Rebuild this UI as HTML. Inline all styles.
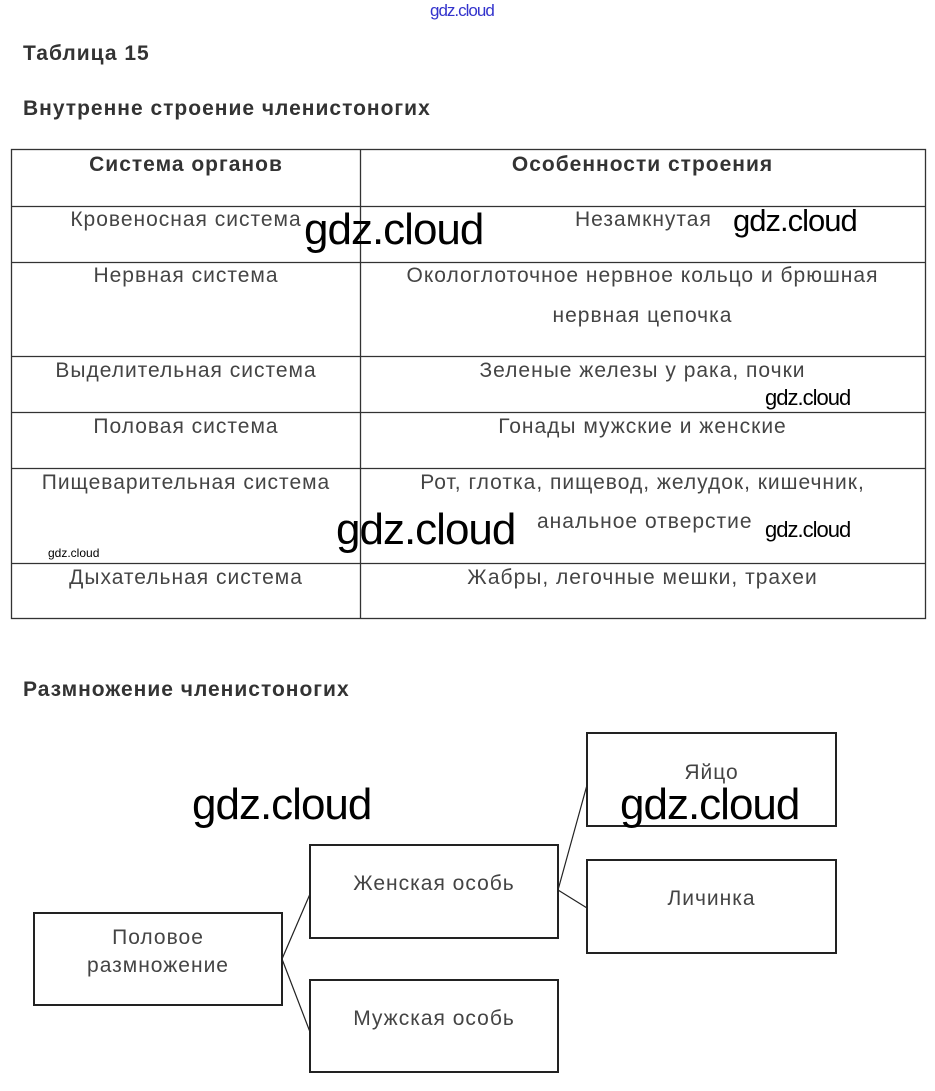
<!DOCTYPE html>
<html><head><meta charset="utf-8"><style>
body{margin:0;width:935px;height:1091px;background:#fff;position:relative;overflow:hidden;font-family:"Liberation Sans",Arial,sans-serif;color:#444}
.t{position:absolute;font-size:21px;white-space:nowrap;text-align:center;letter-spacing:1px}
.h{position:absolute;font-size:21px;font-weight:bold;color:#333;white-space:nowrap;letter-spacing:1px}
.w{position:absolute;color:#000;font-family:"Liberation Sans",sans-serif;white-space:nowrap;letter-spacing:-1px}
</style></head><body>
<div class="w" style="left:430px;top:1px;font-size:17px;color:#3333cc;letter-spacing:-1px">gdz.cloud</div>
<div class="h" style="left:23px;top:42px">Таблица 15</div>
<div class="h" style="left:23px;top:97px">Внутренне строение членистоногих</div>
<svg style="position:absolute;left:0;top:0" width="935" height="1091">
<g stroke="#333" stroke-width="1.3" fill="none">
<rect x="11.5" y="149.5" width="914" height="469"/>
<line x1="360.5" y1="149" x2="360.5" y2="619"/>
<line x1="11" y1="206.5" x2="925" y2="206.5"/>
<line x1="11" y1="262.5" x2="925" y2="262.5"/>
<line x1="11" y1="356.5" x2="925" y2="356.5"/>
<line x1="11" y1="412.5" x2="925" y2="412.5"/>
<line x1="11" y1="468.5" x2="925" y2="468.5"/>
<line x1="11" y1="563.5" x2="925" y2="563.5"/>
</g>
<g stroke="#222" stroke-width="2" fill="none">
<rect x="34" y="913" width="248" height="92"/>
<rect x="310" y="845" width="248" height="93"/>
<rect x="310" y="980" width="248" height="92"/>
<rect x="587" y="733" width="249" height="93"/>
<rect x="587" y="860" width="249" height="93"/>
</g>
<g stroke="#222" stroke-width="1.2">
<line x1="282" y1="959" x2="310" y2="894"/>
<line x1="282" y1="959" x2="310" y2="1032"/>
<line x1="558" y1="890" x2="587" y2="785"/>
<line x1="558" y1="890" x2="587" y2="908"/>
</g>
</svg>
<div class="h" style="left:11px;width:350px;text-align:center;top:153px">Система органов</div>
<div class="h" style="left:360px;width:565px;text-align:center;top:153px">Особенности строения</div>
<div class="t" style="left:11px;width:350px;top:208px">Кровеносная система</div>
<div class="t" style="left:575px;top:208px">Незамкнутая</div>
<div class="t" style="left:11px;width:350px;top:264px">Нервная система</div>
<div class="t" style="left:360px;width:565px;top:264px">Окологлоточное нервное кольцо и брюшная</div>
<div class="t" style="left:360px;width:565px;top:304px">нервная цепочка</div>
<div class="t" style="left:11px;width:350px;top:359px">Выделительная система</div>
<div class="t" style="left:360px;width:565px;top:359px">Зеленые железы у рака, почки</div>
<div class="t" style="left:11px;width:350px;top:415px">Половая система</div>
<div class="t" style="left:360px;width:565px;top:415px">Гонады мужские и женские</div>
<div class="t" style="left:11px;width:350px;top:471px">Пищеварительная система</div>
<div class="t" style="left:360px;width:565px;top:471px">Рот, глотка, пищевод, желудок, кишечник,</div>
<div class="t" style="left:537px;top:510px">анальное отверстие</div>
<div class="t" style="left:11px;width:350px;top:566px">Дыхательная система</div>
<div class="t" style="left:360px;width:565px;top:566px">Жабры, легочные мешки, трахеи</div>
<div class="h" style="left:23px;top:678px">Размножение членистоногих</div>
<div class="t" style="left:34px;width:248px;top:926px">Половое</div>
<div class="t" style="left:34px;width:248px;top:954px">размножение</div>
<div class="t" style="left:310px;width:248px;top:872px">Женская особь</div>
<div class="t" style="left:310px;width:248px;top:1007px">Мужская особь</div>
<div class="t" style="left:587px;width:249px;top:761px">Яйцо</div>
<div class="t" style="left:587px;width:249px;top:887px">Личинка</div>
<div class="w" style="left:304px;top:205px;font-size:44px">gdz.cloud</div>
<div class="w" style="left:733px;top:203px;font-size:31px">gdz.cloud</div>
<div class="w" style="left:765px;top:385px;font-size:22px">gdz.cloud</div>
<div class="w" style="left:336px;top:505px;font-size:44px">gdz.cloud</div>
<div class="w" style="left:765px;top:517px;font-size:22px">gdz.cloud</div>
<div class="w" style="left:48px;top:546px;font-size:12px;letter-spacing:0">gdz.cloud</div>
<div class="w" style="left:192px;top:780px;font-size:44px">gdz.cloud</div>
<div class="w" style="left:620px;top:780px;font-size:44px">gdz.cloud</div>
</body></html>
